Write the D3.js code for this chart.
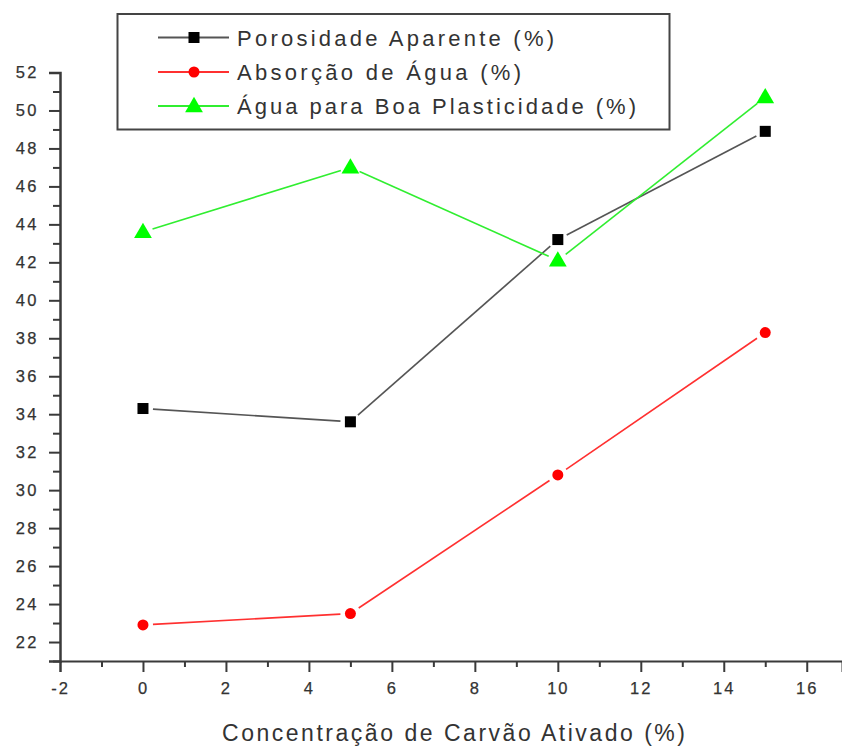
<!DOCTYPE html>
<html>
<head>
<meta charset="utf-8">
<script src="https://cdn.jsdelivr.net/npm/d3@7"></script>
<style>
  html, body { margin: 0; padding: 0; background: #fff; }
  svg { display: block; font-family: "Liberation Sans", Arial, sans-serif; }
</style>
</head>
<body>
<svg id="chart" width="842" height="746"></svg>
<script>
// ---- data ----
const concentrations = [0, 5, 10, 15];
const porosidade = [34.3, 33.6, 43.2, 48.9];
const absorcao = [22.9, 23.5, 30.8, 38.3];
const aguaPlasticidade = [43.6, 47.0, 42.1, 50.7];
const seriesNames = ["Porosidade Aparente (%)", "Absorção de Água (%)", "Água para Boa Plasticidade (%)"];
const xTickValues = [-2, 0, 2, 4, 6, 8, 10, 12, 14, 16];
const yTickValues = [22, 24, 26, 28, 30, 32, 34, 36, 38, 40, 42, 44, 46, 48, 50, 52];
const xTitle = "Concentração de Carvão Ativado (%)";

const series = [
  { name: seriesNames[0], values: porosidade, line: "#555", fill: "#000", shape: "square" },
  { name: seriesNames[1], values: absorcao, line: "#ff3030", fill: "#ff0000", shape: "circle" },
  { name: seriesNames[2], values: aguaPlasticidade, line: "#30ee30", fill: "#00ff00", shape: "triangle" }
];

const svg = d3.select("#chart");
const x = d3.scaleLinear().domain([-2, 16.85]).range([60, 842]);
const y = d3.scaleLinear().domain([21, 52]).range([661, 72.5]);

const axisColor = "#3a3a3a";
const textColor = "#333";
const fmt = d => String(d);

// ---- axes ----
const gx = svg.append("g").attr("transform", `translate(0,${y(21)})`);
gx.call(d3.axisBottom(x).tickValues(d3.range(-1, 17, 2)).tickSize(6).tickFormat(""));
gx.select(".domain").remove();
gx.selectAll(".tick line").attr("stroke", axisColor).attr("stroke-width", 2);
const gx2 = svg.append("g").attr("transform", `translate(0,${y(21)})`);
gx2.call(d3.axisBottom(x).tickValues(xTickValues).tickSize(11).tickPadding(10).tickFormat(fmt));
gx2.select(".domain").attr("stroke", axisColor).attr("stroke-width", 2);
gx2.selectAll(".tick line").attr("stroke", axisColor).attr("stroke-width", 2);
gx2.selectAll(".tick text")
  .attr("fill", textColor).attr("font-size", 16.5)
  .attr("font-family", "Liberation Sans, Arial, sans-serif")
  .attr("stroke", textColor).attr("stroke-width", 0.25)
  .style("letter-spacing", "2px");

const gy = svg.append("g").attr("transform", `translate(${x(-2)},0)`);
gy.call(d3.axisLeft(y).tickValues(d3.range(21, 52, 2)).tickSize(7).tickFormat(""));
gy.select(".domain").remove();
gy.selectAll(".tick line").attr("stroke", axisColor).attr("stroke-width", 2);
const gy2 = svg.append("g").attr("transform", `translate(${x(-2)},0)`);
gy2.call(d3.axisLeft(y).tickValues(yTickValues).tickSize(11).tickPadding(10).tickFormat(fmt));
gy2.select(".domain").attr("stroke", axisColor).attr("stroke-width", 2.5);
gy2.selectAll(".tick line").attr("stroke", axisColor).attr("stroke-width", 2);
gy2.selectAll(".tick text")
  .attr("fill", textColor).attr("font-size", 16.5)
  .attr("font-family", "Liberation Sans, Arial, sans-serif")
  .attr("stroke", textColor).attr("stroke-width", 0.25)
  .style("letter-spacing", "2.5px");

// ---- axis title ----
svg.append("text")
  .attr("x", 222).attr("y", 741)
  .attr("fill", textColor)
  .attr("font-size", 23)
  .attr("textLength", 463)
  .attr("lengthAdjust", "spacing")
  .text(xTitle);

// ---- marker helper ----
function drawMarker(g, shape, cx, cy, fill, size) {
  if (shape === "square") {
    g.append("rect").attr("x", cx - size / 2).attr("y", cy - size / 2)
      .attr("width", size).attr("height", size).attr("fill", fill);
  } else if (shape === "circle") {
    g.append("circle").attr("cx", cx).attr("cy", cy).attr("r", size / 2).attr("fill", fill);
  } else {
    const sym = d3.symbol().type(d3.symbolTriangle).size(size * size * 0.75);
    g.append("path").attr("d", sym()).attr("transform", `translate(${cx},${cy + 1})`).attr("fill", fill);
  }
}

// ---- series ----
const gap = 10;
series.forEach(s => {
  const g = svg.append("g");
  const pts = concentrations.map((c, i) => [x(c), y(s.values[i])]);
  for (let i = 0; i < pts.length - 1; i++) {
    const [x1, y1] = pts[i], [x2, y2] = pts[i + 1];
    const dx = x2 - x1, dy = y2 - y1, len = Math.hypot(dx, dy);
    const ux = dx / len, uy = dy / len;
    g.append("line")
      .attr("x1", x1 + ux * gap).attr("y1", y1 + uy * gap)
      .attr("x2", x2 - ux * gap).attr("y2", y2 - uy * gap)
      .attr("stroke", s.line).attr("stroke-width", 1.6);
  }
  pts.forEach(([px, py]) => drawMarker(g, s.shape, px, py, s.fill, s.shape === "triangle" ? 13.5 : 11));
});

// ---- legend ----
const lg = svg.append("g");
lg.append("rect").attr("x", 117.5).attr("y", 14).attr("width", 552).attr("height", 115.5)
  .attr("fill", "#fff").attr("stroke", "#444").attr("stroke-width", 2);
const legendRows = [37.5, 72, 106];
const legendWidths = [317, 284, 399];
series.forEach((s, i) => {
  const ry = legendRows[i];
  lg.append("line").attr("x1", 158).attr("x2", 229).attr("y1", ry).attr("y2", ry)
    .attr("stroke", s.line).attr("stroke-width", 2);
  drawMarker(lg, s.shape, 194, ry, s.fill, s.shape === "triangle" ? 13.5 : 11);
  lg.append("text")
    .attr("x", 237).attr("y", ry + 8)
    .attr("fill", textColor).attr("font-size", 22)
    .attr("textLength", legendWidths[i]).attr("lengthAdjust", "spacing")
    .text(s.name);
});
</script>
</body>
</html>
